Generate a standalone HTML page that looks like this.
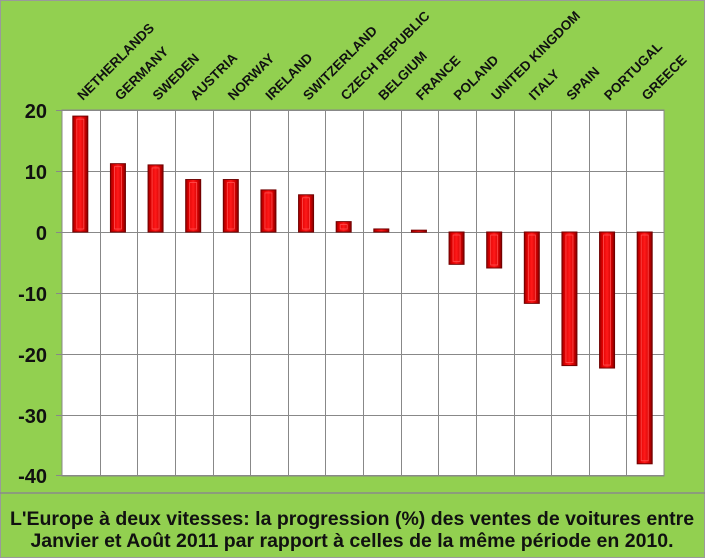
<!DOCTYPE html>
<html><head><style>
body{margin:0;background:#fff}
svg{display:block}
</style></head><body>
<svg width="705" height="558" xmlns="http://www.w3.org/2000/svg" font-family="Liberation Sans, Arial, sans-serif">
<defs>
<linearGradient id="g" x1="0" x2="1" y1="0" y2="0">
<stop offset="0" stop-color="#9a0000"/><stop offset="0.2" stop-color="#e00000"/><stop offset="0.5" stop-color="#ff1a1a"/><stop offset="0.8" stop-color="#d00000"/><stop offset="1" stop-color="#800000"/>
</linearGradient>
</defs>
<rect x="0.5" y="0.5" width="704" height="557" fill="#92D050" stroke="#9a9a9a"/>
<line x1="0" y1="493" x2="705" y2="493" stroke="#8a8a8a" stroke-width="1.5"/>
<rect x="62" y="110" width="602" height="366" fill="#fff" stroke="#888"/>
<g stroke="#888" stroke-width="1">
<line x1="56" y1="110.5" x2="664" y2="110.5"/>
<line x1="56" y1="171.5" x2="664" y2="171.5"/>
<line x1="56" y1="232.5" x2="664" y2="232.5"/>
<line x1="56" y1="293.5" x2="664" y2="293.5"/>
<line x1="56" y1="354.5" x2="664" y2="354.5"/>
<line x1="56" y1="415.5" x2="664" y2="415.5"/>
<line x1="56" y1="475.5" x2="664" y2="475.5"/>
</g>
<g id="vg" stroke="#888"></g>
<g id="bars"></g>
<g id="lab" font-size="13.5" font-weight="bold" fill="#111"></g>
<g font-size="20" font-weight="bold" fill="#111" text-anchor="end">
<text x="47" y="118">20</text><text x="47" y="179">10</text><text x="47" y="240">0</text>
<text x="47" y="301">-10</text><text x="47" y="362">-20</text><text x="47" y="423">-30</text><text x="47" y="483">-40</text>
</g>
<g font-size="19.5" font-weight="bold" fill="#111" text-anchor="middle">
<text x="352" y="525">L'Europe à deux vitesses: la progression (%) des ventes de voitures entre</text>
<text x="352" y="547">Janvier et Août 2011 par rapport à celles de la même période en 2010.</text>
</g>
<script>
(function(){
var names=["NETHERLANDS","GERMANY","SWEDEN","AUSTRIA","NORWAY","IRELAND","SWITZERLAND","CZECH REPUBLIC","BELGIUM","FRANCE","POLAND","UNITED KINGDOM","ITALY","SPAIN","PORTUGAL","GREECE"];
var vals=[19,11.2,11,8.6,8.6,6.9,6.1,1.7,0.5,0.3,-5.3,-5.9,-11.7,-21.9,-22.3,-38];
var ns="http://www.w3.org/2000/svg",w=602/16,z=232,s=6.1;
function el(t,a,p){var e=document.createElementNS(ns,t);for(var k in a)e.setAttribute(k,a[k]);document.getElementById(p).appendChild(e);return e;}
for(var i=1;i<16;i++){var x=Math.round(62+i*w)+0.5;el("line",{x1:x,y1:110,x2:x,y2:476},"vg");}
for(var i=0;i<16;i++){var c=62+w*(i+0.5),v=vals[i],y1=z-v*s,ty=Math.min(y1,z),h=Math.max(Math.abs(v*s),2);
el("rect",{x:c-8,y:ty,width:15,height:h,fill:"url(#g)",stroke:"#700000","stroke-width":1},"bars");
if(h>6)el("rect",{x:c-4,y:ty+3,width:7,height:h-6,fill:"none",stroke:"#ff5050","stroke-width":0.8},"bars");
var t=el("text",{x:0,y:0,transform:"translate("+(c+2)+",101) rotate(-45)"},"lab");t.textContent=names[i];}
})();
</script>
</svg>
</body></html>
